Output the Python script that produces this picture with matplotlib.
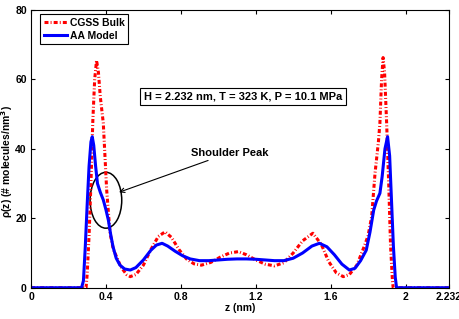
import matplotlib.pyplot as plt
from matplotlib.patches import Ellipse

plt.rcParams['font.family'] = ['Liberation Sans', 'DejaVu Sans']
plt.rcParams['font.weight'] = 'bold'
plt.rcParams['mathtext.fontset'] = 'dejavusans'

# AA model density profile
z_aa = [0, 0.27, 0.28, 0.29, 0.30, 0.31, 0.32, 0.327, 0.335, 0.345, 0.355, 0.37,
        0.386, 0.40, 0.413, 0.425, 0.438, 0.455, 0.475, 0.50, 0.53, 0.56, 0.60,
        0.64, 0.67, 0.70, 0.73, 0.77, 0.81, 0.85, 0.90, 0.95, 1.00, 1.05, 1.10,
        1.15, 1.20, 1.25, 1.30, 1.35, 1.40, 1.45, 1.50, 1.54, 1.58, 1.62, 1.66,
        1.70, 1.73, 1.76, 1.79, 1.81, 1.83, 1.845, 1.863, 1.875, 1.89, 1.904,
        1.915, 1.925, 1.935, 1.945, 1.952, 2.232]
rho_aa = [0, 0, 2, 12, 24, 35, 42, 43.5, 41, 35, 30, 27.5,
          25.3, 22.5, 19.5, 15.5, 11.8, 8.5, 6.5, 5.4, 5.1, 5.8, 8.0,
          10.8, 12.3, 12.8, 12.0, 10.5, 9.2, 8.3, 7.8, 7.8, 8.0, 8.2, 8.3,
          8.3, 8.2, 8.0, 7.8, 7.8, 8.5, 10.0, 12.0, 12.8, 11.8, 9.5, 6.8,
          5.1, 5.6, 7.8, 10.8, 16, 22.4, 25, 27.2, 32, 40, 43.5,
          38, 25, 12, 3, 0, 0]

# CGSS bulk density profile
z_cg = [0, 0.294, 0.30, 0.31, 0.32, 0.33, 0.34, 0.35, 0.36, 0.37, 0.386, 0.404,
        0.422, 0.44, 0.457, 0.48, 0.51, 0.53, 0.56, 0.60, 0.64, 0.68, 0.716,
        0.75, 0.79, 0.83, 0.87, 0.91, 0.96, 1.01, 1.06, 1.107, 1.15, 1.20,
        1.25, 1.30, 1.35, 1.40, 1.45, 1.505, 1.55, 1.59, 1.63, 1.667, 1.70,
        1.74, 1.78, 1.80, 1.819, 1.837, 1.855, 1.863, 1.872, 1.880, 1.888,
        1.899, 1.91, 1.92, 1.93, 1.934, 2.232]
rho_cg = [0, 0, 4, 15, 30, 48, 60, 65.5, 62, 55, 47.4, 28.2,
          15.7, 11, 8.9, 6, 3.8, 3.2, 3.8, 6.5, 11, 14.8, 16.1,
          14.5, 11, 8.3, 6.9, 6.5, 7.3, 8.8, 10, 10.4, 9.5, 8,
          6.8, 6.3, 7.2, 10, 13.5, 15.7, 12.5, 7.5, 4.3, 3.2, 3.8,
          6.5, 12, 15, 20.5, 33, 42, 47.4, 60, 66.3, 62,
          47.4, 30, 12, 2, 0, 0]

xticks = [0, 0.4, 0.8, 1.2, 1.6, 2, 2.232]
xticklabels = ['0', '0.4', '0.8', '1.2', '1.6', '2', '2.232']
yticks = [0, 20, 40, 60, 80]

fig = plt.figure(figsize=(4.6, 3.19), dpi=100)
ax = fig.add_axes([0.0674, 0.098, 0.9087, 0.8707])

ax.plot(z_cg, rho_cg, color='red', lw=2.2, linestyle=(0, (1.3, 0.7, 0.3, 0.7)),
        label='CGSS Bulk')
ax.plot(z_aa, rho_aa, color='blue', lw=2.2, label='AA Model')

ax.set_xlim(0, 2.232)
ax.set_ylim(0, 80)
ax.set_xticks(xticks)
ax.set_xticklabels(xticklabels)
ax.set_yticks(yticks)
ax.tick_params(direction='in', top=True, right=True, labelsize=7.5, length=3, pad=3)
ax.set_xlabel('z (nm)', fontsize=7.5, fontweight='bold', labelpad=1)
ax.set_ylabel('\u03c1(z) (# molecules/nm$^3$)', fontsize=7.5, fontweight='bold')
ax.yaxis.set_label_coords(-0.038, 0.454)

leg = ax.legend(loc='upper left', bbox_to_anchor=(0.0215, 0.9856), fontsize=7.5,
                fancybox=False, edgecolor='black', framealpha=1, handlelength=2.2,
                borderpad=0.35, labelspacing=0.3, handletextpad=0.3, borderaxespad=0)
leg.get_frame().set_linewidth(0.8)

ax.text(1.13, 55.1, 'H = 2.232 nm, T = 323 K, P = 10.1 MPa', fontsize=8,
        ha='center', va='center',
        bbox=dict(boxstyle='square,pad=0.35', facecolor='white', edgecolor='black', lw=0.8))

ax.add_patch(Ellipse((0.40, 25.2), 0.169, 16.1, fill=False, edgecolor='black', lw=1.1))
ax.annotate('Shoulder Peak', xy=(0.47, 27.5), xytext=(0.855, 38.9), fontsize=8,
            ha='left', va='center',
            arrowprops=dict(arrowstyle='->', color='black', lw=0.8, shrinkA=0, shrinkB=0))

fig.savefig('out.png', dpi=100)
